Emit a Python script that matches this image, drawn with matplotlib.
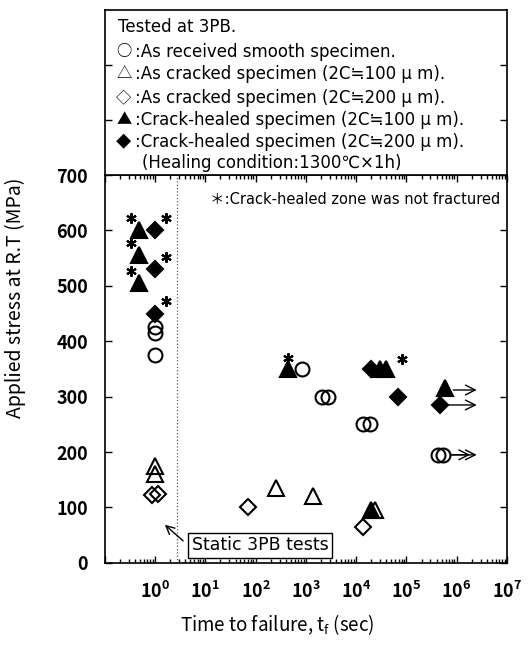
import numpy as np
import matplotlib
matplotlib.use("Agg")
import matplotlib.pyplot as plt
from matplotlib.ticker import LogLocator, NullFormatter, FuncFormatter
from matplotlib.transforms import ScaledTranslation

plt.rcParams['font.family'] = ['Noto Sans CJK JP', 'DejaVu Sans']
TXT = ['DejaVu Sans', 'Noto Sans CJK JP']   # wider latin font for the notes

# data (time to failure in s, stress in MPa)
smooth_t = [1, 1, 1, 830, 2100, 2750, 13500, 18600, 430000, 540000]
smooth_s = [425, 415, 375, 350, 300, 300, 250, 250, 195, 195]

crack100_t = [1, 1, 250, 1380, 23400]
crack100_s = [175, 160, 135, 120, 95]

crack200_t = [0.85, 1.15, 70, 13500]
crack200_s = [122, 125, 100, 65]

healed100_t = [0.48, 0.48, 0.48, 437, 30000, 40000, 19500, 590000]
healed100_s = [600, 555, 505, 350, 350, 350, 95, 315]

healed200_t = [1, 1, 1, 20000, 68000, 470000]
healed200_s = [600, 530, 450, 350, 300, 285]

# points where crack-healed zone was not fractured (*) and offset of the star in points
star_t = [0.48, 1, 0.48, 1, 0.48, 1, 437, 40000]
star_s = [600, 600, 555, 530, 505, 450, 350, 350]
star_dx = [-6, 8, -6, 8, -6, 8, 0, 11]
star_dy = [9, 9, 9, 9, 9, 9, 8, 7]

# run-out specimens (arrow to the right): time, stress, number of heads
runout_t = [590000, 470000, 540000]
runout_s = [312, 285, 195]
runout_heads = [1, 1, 2]

fig = plt.figure(figsize=(5.32, 6.53), dpi=100)
ax = fig.add_axes([0.197, 0.138, 0.756, 0.594])
lax = fig.add_axes([0.197, 0.732, 0.756, 0.253])

ms = 10
mew = 1.5
ax.plot(smooth_t, smooth_s, 'o', ms=ms, mfc='none', mec='k', mew=mew, ls='none')
ax.plot(healed100_t, healed100_s, '^', ms=ms + 1, mfc='k', mec='k', mew=mew, ls='none')
ax.plot(crack100_t, crack100_s, '^', ms=ms + 1, mfc='none', mec='k', mew=mew, ls='none')
ax.plot(crack200_t, crack200_s, 'D', ms=ms - 2, mfc='none', mec='k', mew=mew, ls='none')
ax.plot(healed200_t, healed200_s, 'D', ms=ms - 2, mfc='k', mec='k', mew=mew, ls='none')

for t, s, dx, dy in zip(star_t, star_s, star_dx, star_dy):
    off = ScaledTranslation(dx / 72, dy / 72, fig.dpi_scale_trans)
    ax.plot(t, s, marker=(6, 2, 0), ms=7.5, mew=1.5, color='k', transform=ax.transData + off)

for t, s, n in zip(runout_t, runout_s, runout_heads):
    for k in range(n):
        ax.annotate('', xy=(2.5e6 / (1.35 ** k), s), xytext=(t * 1.45, s),
                    arrowprops=dict(arrowstyle='->,head_length=0.7,head_width=0.35',
                                    lw=1.0, color='k', shrinkA=0, shrinkB=0))

# boundary of the static tests
ax.axvline(2.7, color='0.35', ls=':', lw=0.9)

ax.set_xscale('log')
ax.set_xlim(0.1, 1e7)
ax.set_ylim(0, 700)
ax.set_yticks(np.arange(0, 701, 100))
ax.xaxis.set_major_locator(LogLocator(base=10, numticks=20))
ax.xaxis.set_minor_locator(LogLocator(base=10, subs=np.arange(2, 10), numticks=20))
ax.xaxis.set_minor_formatter(NullFormatter())
ax.xaxis.set_major_formatter(FuncFormatter(
    lambda v, p: r'$\mathregular{10^{%d}}$' % round(np.log10(v)) if v >= 1 else ''))
ax.tick_params(which='both', direction='in', top=True, right=True, width=1)
ax.tick_params(which='major', length=5, labelsize=13)
ax.tick_params(axis='x', which='major', pad=13)
ax.tick_params(axis='y', which='major', pad=12)
ax.tick_params(which='minor', length=3)
for lab in ax.get_yticklabels() + ax.get_xticklabels():
    lab.set_fontweight('bold')
for sp in ax.spines.values():
    sp.set_linewidth(1.2)

ax.set_ylabel('Applied stress at R.T (MPa)', fontsize=14)
ax.yaxis.set_label_coords(-0.195, 0.683)
ax.set_xlabel(r'Time to failure, $\mathregular{t_f}$ (sec)', fontsize=13.5)
ax.xaxis.set_label_coords(0.428, -0.128)

ax.text(0.262, 0.936, '＊:Crack-healed zone was not fractured', transform=ax.transAxes,
        fontsize=10.5, va='center', ha='left', family=TXT)

ax.text(0.386, 0.045, 'Static 3PB tests', transform=ax.transAxes, fontsize=12.5,
        ha='center', va='center', family=TXT,
        bbox=dict(boxstyle='square,pad=0.2', fc='white', ec='k', lw=1))
ax.annotate('', xy=(0.144, 0.103), xytext=(0.2, 0.052), xycoords='axes fraction',
            arrowprops=dict(arrowstyle='->,head_length=0.6,head_width=0.3', lw=1, color='k'))

# upper legend box
lax.set_xlim(0, 1)
lax.set_ylim(700, 1000)
lax.set_xticks([])
lax.set_yticks([800, 900])
lax.set_yticklabels([])
lax.tick_params(direction='in', right=True, length=5, width=1)
for sp in lax.spines.values():
    sp.set_linewidth(1.2)

legend_symbols = ['', '○', '△', '◇', '▲', '◆', '']
legend_lines = [
    'Tested at 3PB.',
    ':As received smooth specimen.',
    ':As cracked specimen (2C≒100 μ m).',
    ':As cracked specimen (2C≒200 μ m).',
    ':Crack-healed specimen (2C≒100 μ m).',
    ':Crack-healed specimen (2C≒200 μ m).',
    '(Healing condition:1300℃×1h)',
]
line_y = [0.897, 0.745, 0.612, 0.467, 0.333, 0.2, 0.073]
for i, (sym, txt, yy) in enumerate(zip(legend_symbols, legend_lines, line_y)):
    if i == 0:
        xx = 0.032
    elif i == len(legend_lines) - 1:
        xx = 0.092
    else:
        xx = 0.074
        lax.text(0.028, yy, sym, transform=lax.transAxes, fontsize=11, va='center',
                 ha='left', family=['Noto Sans CJK JP'])
    lax.text(xx, yy, txt, transform=lax.transAxes, fontsize=12, va='center', ha='left',
             family=TXT)

fig.savefig('out.png', dpi=100)
